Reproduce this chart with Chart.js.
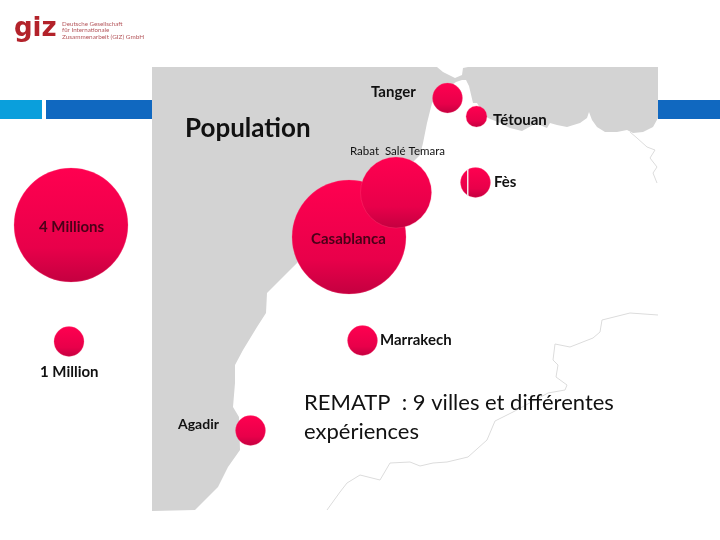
<!DOCTYPE html>
<html lang="fr"><head><meta charset="utf-8">
<style>html,body{margin:0;padding:0;background:#fff}canvas{display:block}</style>
<script src="https://cdn.jsdelivr.net/npm/chart.js@4"></script>
</head><body><canvas id="c" width="720" height="540"></canvas>
<script>
const cityNames=["Casablanca","Rabat Salé Temara","Tanger","Tétouan","Fès","Marrakech","Agadir"];
const cityX=[349,396,447.5,476.5,475.5,362.5,250.5];
const cityY=[237,192.5,98,116.5,182.5,340.5,430.5];
const cityR=[57,35.5,15,10.5,15,15,15];
const legendNames=["4 Millions","1 Million"];
const legendX=[71,69];
const legendY=[225,341.5];
const legendR=[57,15];
const seaX=[152,437,443,455,462,463,468,658,658,653,643,633,627,617,605,597,592,589,587,580,567,557,550,547,540,533,522,510,500,488,483,477,473,469,466,462,456,445,437,432,427,423,420,400,350,300,293,267,266,257,243,235,235,233,239,240,228,218,195,152];
const seaY=[67,67,72,78,75,68,67,67,118,127,132,133,130,132,132,127,120,112,118,123,127,125,123,128,125,125,131,128,123,118,113,103,103,86,80,80,82,90,98,103,123,143,155,175,215,260,267,293,313,327,350,365,383,407,417,450,467,487,510,511];
const borderAX=[630,637,647,655,650,657,653,657];
const borderAY=[132,138,147,150,158,167,173,183];
const borderBX=[658,630,602,600,593,570,555,553,558,556,567,565,548,513,495,487,468,447,433,420,410,390,380,360,347,340,327];
const borderBY=[315,313,320,332,338,347,344,360,365,377,385,390,393,412,421,440,457,462,463,466,462,463,480,475,483,492,510];
const lightBarX=[0,42,42,0];
const lightBarY=[100,100,119,119];
const blueLeftX=[46,152,152,46];
const blueLeftY=[100,100,119,119];
const blueRightX=[658,720,720,658];
const blueRightY=[100,100,119,119];
const fesLineX=[467.7,467.7];
const fesLineY=[169,196];
const pts=(x,y)=>x.map((v,i)=>({x:v,y:y[i]}));
const bubbles=(x,y,r)=>x.map((v,i)=>({x:v,y:y[i],r:r[i]}));
const poly=(data,color,order)=>({type:"line",data,order,fill:"shape",backgroundColor:color,borderColor:color,borderWidth:0,pointRadius:0,tension:0,clip:false});
const trace=(data,color,w,order)=>({type:"line",data,order,fill:false,borderColor:color,borderWidth:w,pointRadius:0,tension:0,clip:false});
function ballFill(ctx){
  const c=ctx.chart,a=c.chartArea;if(!a||!ctx.raw)return "#e8004c";
  const py=c.scales.y.getPixelForValue(ctx.raw.y),r=ctx.raw.r;
  const g=c.ctx.createLinearGradient(0,py-r,0,py+r);
  g.addColorStop(0,"#ff0050");g.addColorStop(.7,"#e8004a");g.addColorStop(1,"#c40040");
  return g;
}
const labelFont='Lato, "Noto Sans", sans-serif';
const texts=[
 ["giz",14,29,'bold 26px "DejaVu Sans"',"#b3222a"],
 ["Deutsche Gesellschaft",62,24.5,"6.2px "+labelFont,"#b4555a"],
 ["für Internationale",62,30,"6.2px "+labelFont,"#b4555a"],
 ["Zusammenarbeit (GIZ) GmbH",62,36.5,"6.4px "+labelFont,"#b4555a"],
 ["Population",185,129,"bold 26px "+labelFont,"#111"],
 ["Tanger",371,92,"bold 15px "+labelFont,"#111"],
 ["Tétouan",493,120,"bold 15px "+labelFont,"#111"],
 ["Rabat  Salé Temara",350,151,"11.5px "+labelFont,"#111"],
 ["Fès",494,182,"bold 15px "+labelFont,"#111"],
 ["4 Millions",39,227,"bold 15px "+labelFont,"#4a0018"],
 ["Casablanca",311,239,"bold 15px "+labelFont,"#4a0018"],
 ["Marrakech",380,340,"bold 15px "+labelFont,"#111"],
 ["1 Million",40,372,"bold 15px "+labelFont,"#111"],
 ["Agadir",178,424,"bold 14px "+labelFont,"#111"],
 ["REMATP  : 9 villes et différentes",304,403,"22px "+labelFont,"#111"],
 ["expériences",304,432,"22px "+labelFont,"#111"]
];
const textPlugin={id:"texts",afterDraw(c){const x=c.ctx;x.save();x.textBaseline="middle";x.textAlign="left";
 texts.forEach(t=>{x.font=t[3];x.fillStyle=t[4];x.fillText(t[0],t[1],t[2]);});x.restore();}};
new Chart(document.getElementById("c"),{
 data:{datasets:[
  poly(pts(lightBarX,lightBarY),"#0a9fdc",6),
  poly(pts(blueLeftX,blueLeftY),"#1068c0",6),
  poly(pts(blueRightX,blueRightY),"#1068c0",6),
  poly(pts(seaX,seaY),"#d3d3d3",5),
  trace(pts(borderAX,borderAY),"#dcdcdc",1,4),
  trace(pts(borderBX,borderBY),"#dcdcdc",1,4),
  {type:"bubble",label:"Villes",data:bubbles(cityX,cityY,cityR),order:1,backgroundColor:ballFill,borderColor:"rgba(255,90,130,.25)",borderWidth:1,clip:false},
  {type:"bubble",label:"Légende",data:bubbles(legendX,legendY,legendR),order:1,backgroundColor:ballFill,borderColor:"rgba(255,90,130,.25)",borderWidth:1,clip:false},
  trace(pts(fesLineX,fesLineY),"#f6e6ea",1,0)
 ]},
 options:{responsive:false,animation:false,devicePixelRatio:1,layout:{padding:0,autoPadding:false},events:[],
  scales:{x:{type:"linear",display:false,min:0,max:720},y:{type:"linear",display:false,min:0,max:540,reverse:true}},
  plugins:{legend:{display:false},tooltip:{enabled:false},title:{display:false}}},
 plugins:[textPlugin]
});
</script></body></html>
